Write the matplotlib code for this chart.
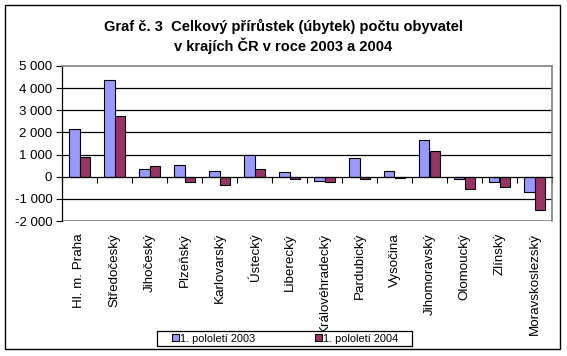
#  -*- coding:utf-8 -*-
import matplotlib.pyplot as plt
import numpy as np
from matplotlib.patches import Rectangle
from matplotlib.ticker import FuncFormatter
import matplotlib.transforms as mtransforms

plt.rcParams['font.family'] = ['Liberation Sans', 'DejaVu Sans']

kraje = ['Hl. m. Praha', 'Středočeský', 'Jihočeský', 'Plzeňský', 'Karlovarský',
         'Ústecký', 'Liberecký', 'Královéhradecký', 'Pardubický', 'Vysočina',
         'Jihomoravský', 'Olomoucký', 'Zlínský', 'Moravskoslezský']
pol2003 = [2140, 4370, 330, 530, 240, 980, 200, -180, 830, 240, 1640, -90, -260, -710]
pol2004 = [870, 2740, 480, -260, -390, 330, -120, -260, -120, -50, 1140, -570, -480, -1520]
legenda = ['1. pololetí 2003', '1. pololetí 2004']
titulek = ['Graf č. 3  Celkový přírůstek (úbytek) počtu obyvatel', 'v krajích ČR v roce 2003 a 2004']

W, H = 567, 356
fig = plt.figure(figsize=(W / 100, H / 100), dpi=100)
fig.patch.set_facecolor('white')

# ramecek kolem celeho grafu
fig.patches.append(Rectangle((5 / W, 1 - 349 / H), 555 / W, 344 / H, transform=fig.transFigure,
                             fill=False, edgecolor='black', linewidth=1.0))

ax = fig.add_axes([62 / W, 1 - 221 / H, 490 / W, 155 / H])
x = np.arange(len(kraje))
w = 0.295
b1 = ax.bar(x - w / 2, pol2003, w, color='#9999FF', edgecolor='black', linewidth=0.8, zorder=3)
b2 = ax.bar(x + w / 2, pol2004, w, color='#993366', edgecolor='black', linewidth=0.8, zorder=3)

ax.set_xlim(-0.5, len(kraje) - 0.5)
ax.set_ylim(-2000, 5000)
ax.set_yticks(range(-2000, 5001, 1000))
ax.yaxis.set_major_formatter(FuncFormatter(lambda v, p: ('-' if v < 0 else '') + '{:,.0f}'.format(abs(v)).replace(',', ' ')))
ax.tick_params(axis='y', length=4, width=0.8, labelsize=9.5, pad=3, color='black')

for g in [-1000, 1000, 2000, 3000, 4000]:
    ax.axhline(g, color='black', linewidth=0.9, zorder=1)
ax.axhline(-2000, color='#808080', linewidth=1.2, zorder=1)

ax.spines['top'].set_color('#808080')
ax.spines['right'].set_color('#808080')
ax.spines['top'].set_linewidth(1.2)
ax.spines['right'].set_linewidth(1.2)
ax.spines['left'].set_linewidth(0.9)
ax.spines['bottom'].set_position(('data', 0))
ax.spines['bottom'].set_linewidth(0.9)
ax.spines['bottom'].set_zorder(4)

ax.set_xticks(np.arange(-0.5, len(kraje), 1.0))
ax.tick_params(axis='x', direction='out', length=4, width=0.8, labelbottom=False)

trans = mtransforms.blended_transform_factory(ax.transData, ax.transAxes)
for i, k in enumerate(kraje):
    ax.text(i, -12 / 155, k, transform=trans, rotation=90, ha='center', va='top', fontsize=9.6)

fig.text(0.5, 1 - 31 / H, titulek[0], ha='center', va='baseline', fontsize=10.5, fontweight='bold')
fig.text(0.5, 1 - 51 / H, titulek[1], ha='center', va='baseline', fontsize=10.5, fontweight='bold')

# legenda - ramecek zvlast, at sedi okraje
fig.patches.append(Rectangle((157 / W, 1 - 346 / H), 255 / W, 15 / H, transform=fig.transFigure,
                             fill=True, facecolor='white', edgecolor='black', linewidth=0.9))
fig.legend([b1, b2], legenda, loc='center', bbox_to_anchor=(285 / W, 1 - 338.5 / H),
           ncol=2, fontsize=7.9, frameon=False, handlelength=0.65, handleheight=0.65,
           handletextpad=0.1, columnspacing=5.4, borderpad=0.1, borderaxespad=0)

fig.savefig('out.png', dpi=100)
